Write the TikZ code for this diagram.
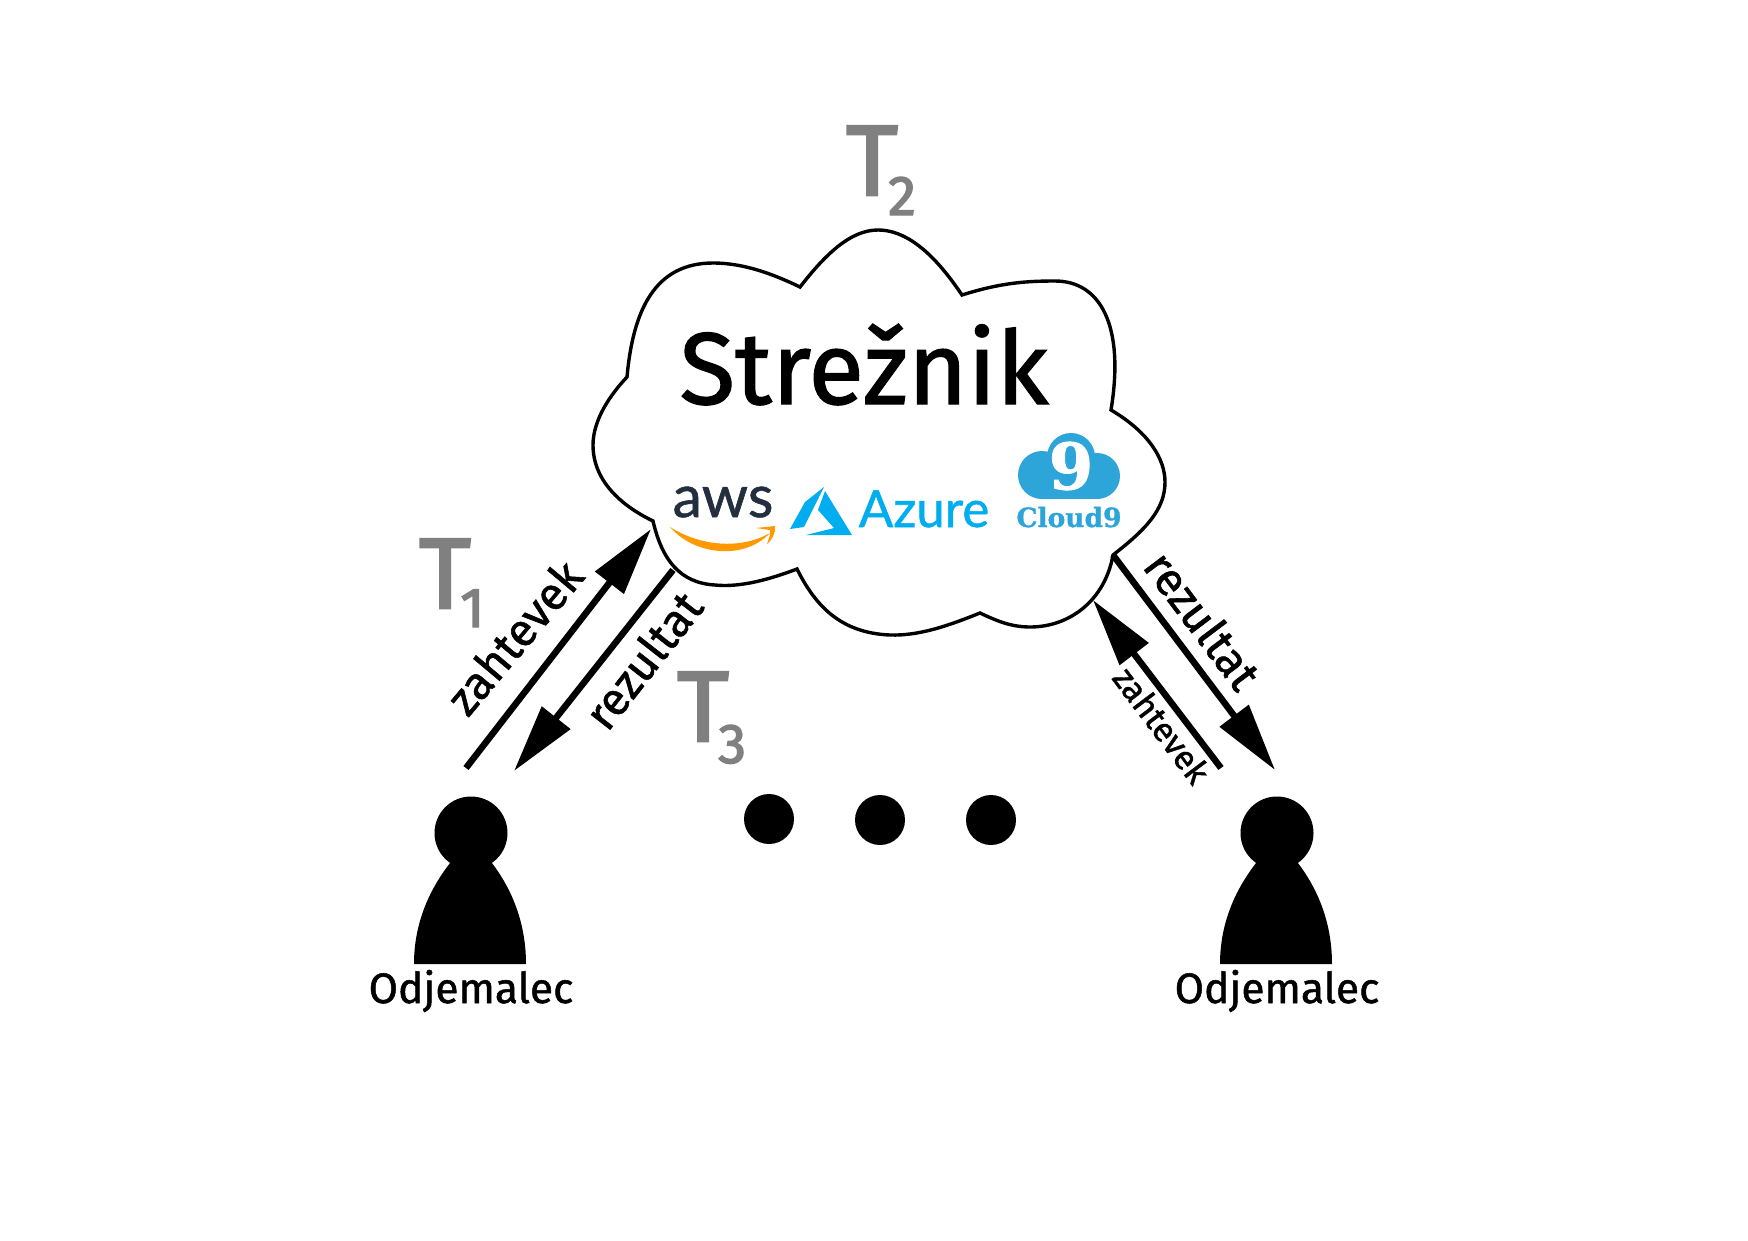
\documentclass[tikz,border=0pt]{standalone}
\usepackage{fontspec}
\setmainfont{Fira Sans}[FakeBold=1.2]
\newfontfamily\timefont{Fira Sans}[FakeBold=2.5]
\newfontfamily\serifbold{DejaVu Serif Bold}[FakeBold=1.2]
\newfontfamily\logofont{Lato}[FakeBold=1]
\usetikzlibrary{arrows.meta,calc,positioning}
\definecolor{timegray}{RGB}{128,128,128}
\definecolor{awsnavy}{RGB}{35,47,62}
\definecolor{awsorange}{RGB}{255,153,0}
\definecolor{azureblue}{RGB}{0,173,239}
\definecolor{nineblue}{RGB}{46,165,216}
\tikzset{
  cloudline/.style={black,line width=3.4pt,line join=miter},
  flow/.style={-{Triangle[length=68pt,width=35pt]},black,line width=6.5pt},
  timelab/.style={text=timegray,font=\timefont\fontsize{100}{100}\selectfont,inner sep=0pt,anchor=base west},
  timesub/.style={text=timegray,font=\timefont\fontsize{56}{56}\selectfont,inner sep=0pt,anchor=base west},
  flowlab/.style={font=\fontsize{46}{46}\selectfont,inner sep=0pt},
  client/.style={font=\fontsize{42.5}{42.5}\selectfont,inner sep=0pt,anchor=base},
  dot/.style={circle,fill=black,inner sep=0pt,minimum size=50pt},
  head/.style={circle,fill=black,inner sep=0pt,minimum size=73pt},
}
\begin{document}
\begin{tikzpicture}[x=1pt,y=-1pt]
  \path[use as bounding box] (0,0) rectangle (1748,1240);

  % cloud
  \draw[cloudline] (627,377)
    .. controls (633,310) and (655,263) .. (713,263)
    .. controls (745,263) and (775,275) .. (800,287)
    .. controls (825,255) and (850,230) .. (878,230)
    .. controls (915,230) and (945,270) .. (962,295)
    .. controls (1000,283) and (1025,281) .. (1055,281)
    .. controls (1100,281) and (1125,325) .. (1111,410)
    .. controls (1150,433) and (1165,460) .. (1165,482)
    .. controls (1165,510) and (1145,530) .. (1113,555)
    .. controls (1105,600) and (1070,627) .. (1030,627)
    .. controls (1010,627) and (995,620) .. (980,613)
    .. controls (950,625) and (920,636) .. (890,635)
    .. controls (840,633) and (815,605) .. (797,569)
    .. controls (760,583) and (735,587) .. (715,585)
    .. controls (680,583) and (662,560) .. (653,521)
    .. controls (620,505) and (593,480) .. (593,445)
    .. controls (593,420) and (610,395) .. (627,377) -- cycle;
  \node[font=\fontsize{102}{102}\selectfont,inner sep=0pt,anchor=base] (server) at (864,404) {Strežnik};

  % logos
  \node[font=\logofont\fontsize{59}{59}\selectfont,text=awsnavy,inner sep=0pt,anchor=base] (aws) at (723,517) {aws};
  \fill[awsorange] (670,527) .. controls (700,546) and (740,550) .. (770,533)
    .. controls (745,560) and (695,556) .. (670,527) -- cycle;
  \fill[awsorange] (756,528) -- (775,526) .. controls (776,533) and (772,540) .. (767,544)
    .. controls (769,538) and (771,534) .. (770,530) -- cycle;
  \fill[azureblue] (824,487) -- (805,502) -- (790,529) -- (804,527) -- cycle;
  \fill[azureblue] (825,491) -- (818,510) -- (834,528) -- (806,535) -- (852,535) -- cycle;
  \node[font=\logofont\fontsize{51}{51}\selectfont,text=azureblue,inner sep=0pt,anchor=base] (azure) at (924,527) {Azure};
  \fill[nineblue] (1071,457) circle (24);
  \fill[nineblue] (1042,475) circle (24);
  \fill[nineblue] (1097,476) circle (23);
  \fill[nineblue] (1042,475) rectangle (1097,499);
  \node[font=\serifbold\fontsize{64}{64}\selectfont,text=white,inner sep=0pt] (nine) at (1071,466) {9};
  \node[font=\serifbold\fontsize{26.5}{26.5}\selectfont,text=nineblue,inner sep=0pt,anchor=base] (cloudnine) at (1069,527) {Cloud9};

  % time labels
  \node[timelab] (tone) at (419,608) {T};
  \node[timesub] (tonesub) at (460,627) {1};
  \node[timelab] (ttwo) at (846,195) {T};
  \node[timesub] (ttwosub) at (888,215) {2};
  \node[timelab] (tthree) at (677,741) {T};
  \node[timesub] (tthreesub) at (718,763) {3};

  % clients
  \foreach \x/\name in {471/left,1277/right}{
    \node[head] (\name head) at (\x,833) {};
    \fill (\x-57,964) .. controls (\x-57,915) and (\x-35,880) .. (\x-17,858)
      -- (\x+17,858) .. controls (\x+35,880) and (\x+55,915) .. (\x+55,964) -- cycle;
    \node[client] (\name client) at (\x,1003) {Odjemalec};
  }
  \foreach \x/\y/\name in {769/819/a,880/820/b,991/820/c}{
    \node[dot] (dot\name) at (\x,\y) {};
  }

  % arrows
  \coordinate (reqAstart) at (466,768);
  \coordinate (reqAend) at (651,529);
  \coordinate (resAstart) at (673,570);
  \coordinate (resAend) at (514,771);
  \coordinate (resBstart) at (1113,555);
  \coordinate (resBend) at (1275,770);
  \coordinate (reqBstart) at (1221,768);
  \coordinate (reqBend) at (1093,600);
  \draw[flow] (reqAstart) -- (reqAend);
  \draw[flow] (resAstart) -- (resAend);
  \draw[flow] (resBstart) -- (resBend);
  \draw[flow] (reqBstart) -- (reqBend);

  \node[flowlab,rotate=50] (reqAlab) at (514,637) {zahtevek};
  \node[flowlab,rotate=52] (resAlab) at (643,660) {rezultat};
  \node[flowlab,rotate=-53] (resBlab) at (1203,620) {rezultat};
  \node[flowlab,font=\fontsize{34}{34}\selectfont,rotate=-53] (reqBlab) at (1162,725) {zahtevek};
\end{tikzpicture}
\end{document}
